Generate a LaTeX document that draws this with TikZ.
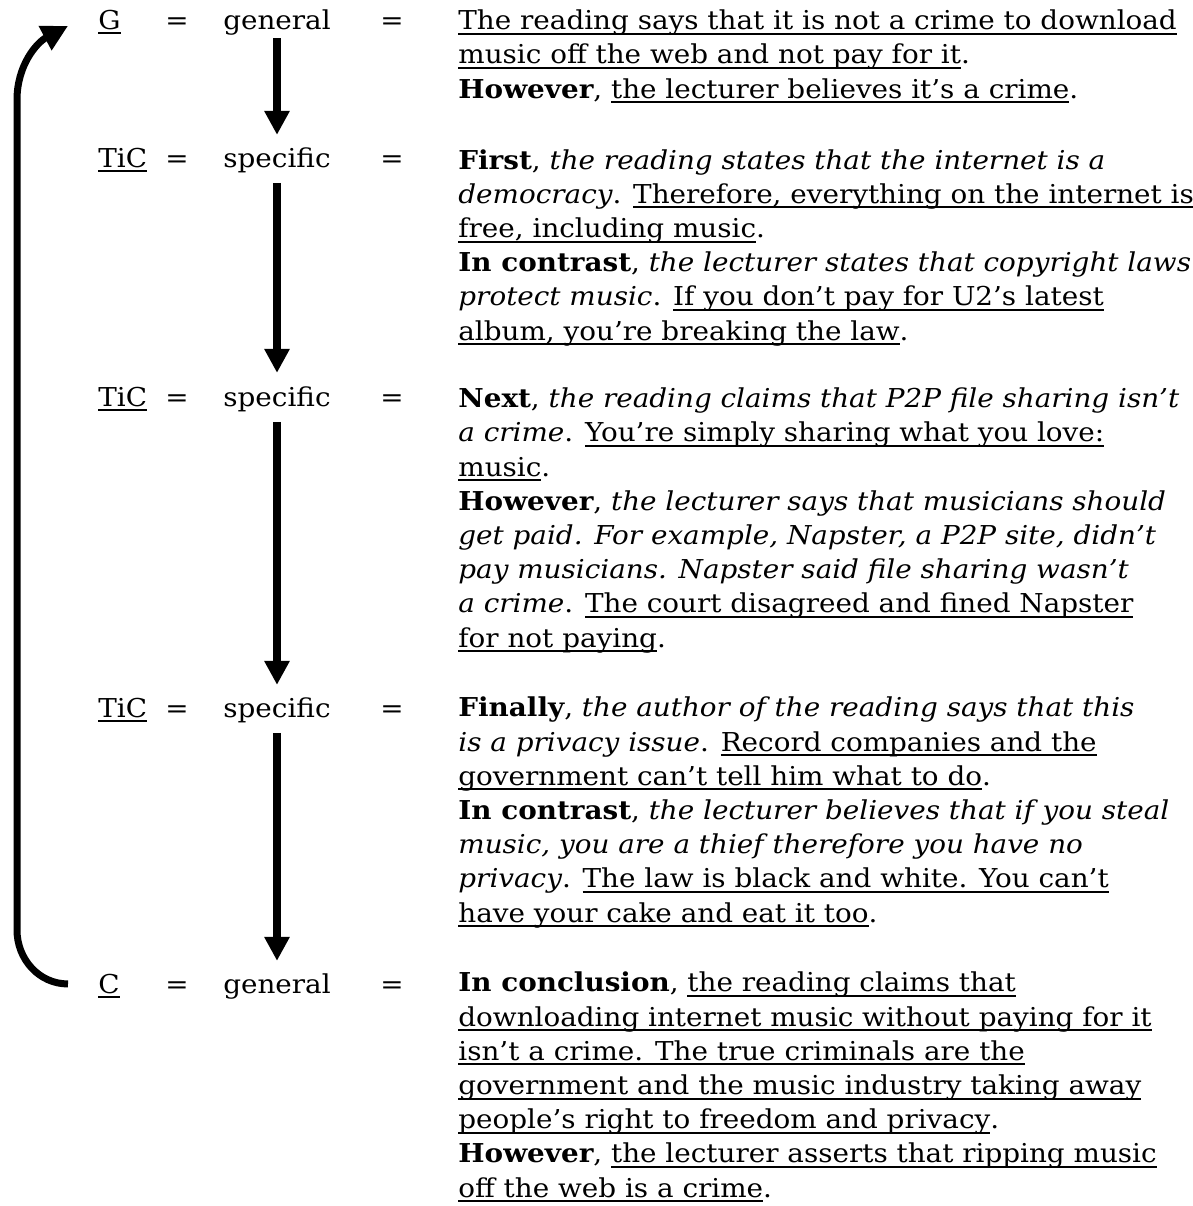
\documentclass[tikz,border=0pt]{standalone}
\usepackage{fontspec}
\setmainfont{DejaVu Serif}[FakeStretch=1.07]
\usetikzlibrary{arrows.meta,positioning}
\newsavebox{\ulnbox}
\newcommand{\uln}[1]{\sbox{\ulnbox}{#1}\rlap{\rule[-2.6pt]{\wd\ulnbox}{1pt}}\usebox{\ulnbox}}
\begin{document}
\begin{tikzpicture}[
    x=0.5pt, y=0.5pt,
    every node/.style={inner sep=0pt, font=\fontsize{13pt}{17.1pt}\selectfont},
    tag/.style={anchor=base west},
    eqsign/.style={anchor=base},
    kind/.style={anchor=base},
    body/.style={anchor=base west, align=left},
    down/.style={-{Triangle[length=12pt,width=12pt]}, line width=4pt},
    back/.style={-{Triangle[length=13pt,width=13pt]}, line width=3.5pt},
]
\useasboundingbox (0,0) rectangle (1193,-1206);

\foreach \n/\l/\k/\y in {g/G/general/29, t1/TiC/specific/167, t2/TiC/specific/406,
                         t3/TiC/specific/717, c/C/general/993} {
    \node[tag] (\n) at (98,-\y) {\uln{\l}};
    \node[eqsign] (ea\n) at (177,-\y) {=};
    \node[kind] (k\n) at (277,-\y) {\k};
    \node[eqsign] (eb\n) at (392,-\y) {=};
}

% blocks sit on the baseline of their last line
\node[body] (bg) at (458,-98) {%
    \uln{The reading says that it is not a crime to download}\\
    \uln{music off the web and not pay for it}.\\
    \textbf{However}, \uln{the lecturer believes it’s a crime}.};

\node[body] (bt1) at (458,-340) {%
    \textbf{First}, \textit{the reading states that the internet is a}\\
    \textit{democracy}. \uln{Therefore, everything on the internet is}\\
    \uln{free, including music}.\\
    \textbf{In contrast}, \textit{the lecturer states that copyright laws}\\
    \textit{protect music}. \uln{If you don’t pay for U2’s latest}\\
    \uln{album, you’re breaking the law}.};

\node[body] (bt2) at (458,-647) {%
    \textbf{Next}, \textit{the reading claims that P2P file sharing isn’t}\\
    \textit{a crime}. \uln{You’re simply sharing what you love:}\\
    \uln{music}.\\
    \textbf{However}, \textit{the lecturer says that musicians should}\\
    \textit{get paid. For example, Napster, a P2P site, didn’t}\\
    \textit{pay musicians. Napster said file sharing wasn’t}\\
    \textit{a crime}. \uln{The court disagreed and fined Napster}\\
    \uln{for not paying}.};

\node[body] (bt3) at (458,-922) {%
    \textbf{Finally}, \textit{the author of the reading says that this}\\
    \textit{is a privacy issue}. \uln{Record companies and the}\\
    \uln{government can’t tell him what to do}.\\
    \textbf{In contrast}, \textit{the lecturer believes that if you steal}\\
    \textit{music, you are a thief therefore you have no}\\
    \textit{privacy}. \uln{The law is black and white. You can’t}\\
    \uln{have your cake and eat it too}.};

\node[body] (bc) at (458,-1197) {%
    \textbf{In conclusion}, \uln{the reading claims that}\\
    \uln{downloading internet music without paying for it}\\
    \uln{isn’t a crime. The true criminals are the}\\
    \uln{government and the music industry taking away}\\
    \uln{people’s right to freedom and privacy}.\\
    \textbf{However}, \uln{the lecturer asserts that ripping music}\\
    \uln{off the web is a crime}.};

\foreach \a/\b/\s/\e in {kg/kt1/1.5pt/6pt, kt1/kt2/5pt/6.5pt,
                         kt2/kt3/5pt/6pt, kt3/kc/5pt/6pt}
    \draw[down, shorten <=\s, shorten >=\e] (\a.south) -- (\b.north);

\coordinate (lowbend) at (17,-930);
\coordinate (highbend) at (17,-100);
\draw[back] ([xshift=-15pt,yshift=1pt]c.west) to[out=180,in=-90] (lowbend) -- (highbend)
    to[out=90,in=208] ([xshift=-15pt,yshift=-2pt]g.west);
\end{tikzpicture}
\end{document}
